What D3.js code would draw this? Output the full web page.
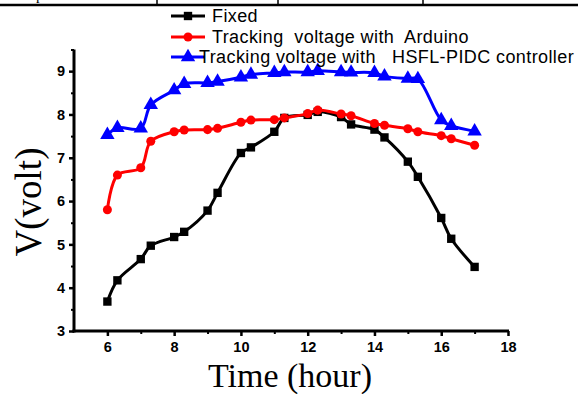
<!DOCTYPE html>
<html>
<head>
<meta charset="utf-8">
<script src="https://cdn.jsdelivr.net/npm/d3@7"></script>
<style>
  body { margin: 0; background: #fff; }
  svg { display: block; }
  text { white-space: pre; }
</style>
</head>
<body>
<svg id="chart" width="578" height="394"></svg>
<script>
// hours of the day
const hours = [6, 6.3, 7, 7.3, 8, 8.3, 9, 9.3, 10, 10.3, 11, 11.3, 12, 12.3, 13, 13.3, 14, 14.3, 15, 15.3, 16, 16.3, 17]

const fixedV = [3.68, 4.17, 4.66, 4.97, 5.17, 5.29, 5.78, 6.19, 7.11, 7.24, 7.6, 7.92, 7.99, 8.06, 7.94, 7.77, 7.65, 7.47, 6.91, 6.56, 5.61, 5.13, 4.48]
const arduinoV = [5.8, 6.6, 6.77, 7.38, 7.6, 7.64, 7.65, 7.68, 7.82, 7.87, 7.88, 7.92, 8.02, 8.1, 8.01, 7.97, 7.79, 7.75, 7.67, 7.6, 7.51, 7.44, 7.29]
const pidcV = [7.53, 7.69, 7.68, 8.22, 8.56, 8.71, 8.73, 8.76, 8.86, 8.92, 8.96, 8.98, 8.98, 9.01, 8.98, 8.97, 8.96, 8.88, 8.83, 8.82, 7.87, 7.74, 7.61]

const seriesNames = ["Fixed", "Tracking  voltage with  Arduino", "Tracking voltage with   HSFL-PIDC controller"]
const seriesColors = ["#000000", "#ff0000", "#0000ff"]
const seriesShapes = [d3.symbolSquare, d3.symbolCircle, d3.symbolTriangle]

const xTicks = [6, 8, 10, 12, 14, 16, 18]
const yTicks = [3, 4, 5, 6, 7, 8, 9]

let svg = d3.select("#chart")

// bit of the table above the figure
svg.append("line")
  .attr("x1", 0).attr("x2", 578).attr("y1", 5).attr("y2", 5)
  .attr("stroke", "black").attr("stroke-width", 2.5)
;[157, 278, 423].forEach(xx => {
  svg.append("line")
    .attr("x1", xx).attr("x2", xx).attr("y1", 0).attr("y2", 5)
    .attr("stroke", "black").attr("stroke-width", 1.5)
})
svg.append("text").text("p")
  .attr("x", 36).attr("y", 0)
  .style("font-family", "Liberation Serif").style("font-size", "15px")

let x = d3.scaleLinear().domain([5, 18]).range([74, 508])
let y = d3.scaleLinear().domain([3, 9.5]).range([331, 49.5])

// axes
let xAxis = svg.append("g")
  .attr("transform", "translate(0," + y(3) + ")")
  .call(d3.axisBottom(x).tickValues(xTicks).tickSize(5).tickSizeOuter(0).tickPadding(6).tickFormat(d3.format("d")))
xAxis.select(".domain").attr("stroke-width", 3).attr("d", "M" + (x(5) - 1.5) + ",0H" + (x(18) + 1))
xAxis.selectAll(".tick line").attr("stroke-width", 2.5)
xAxis.selectAll(".tick text")
  .style("font-family", "Liberation Sans").style("font-weight", "bold").style("font-size", "14.5px")

let xMinor = svg.append("g")
  .attr("transform", "translate(0," + y(3) + ")")
  .call(d3.axisBottom(x).tickValues([7, 9, 11, 13, 15, 17]).tickSize(3).tickFormat(""))
xMinor.select(".domain").remove()
xMinor.selectAll(".tick line").attr("stroke-width", 2)

let yAxis = svg.append("g")
  .attr("transform", "translate(" + x(5) + ",0)")
  .call(d3.axisLeft(y).tickValues(yTicks).tickSize(5).tickSizeOuter(0).tickPadding(4).tickFormat(d3.format("d")))
yAxis.select(".domain").attr("stroke-width", 3).attr("d", "M0," + y(9.5) + "V" + (y(3) + 1.5))
yAxis.selectAll(".tick line").attr("stroke-width", 2.5)
yAxis.selectAll(".tick text")
  .style("font-family", "Liberation Sans").style("font-weight", "bold").style("font-size", "14.5px")

let yMinor = svg.append("g")
  .attr("transform", "translate(" + x(5) + ",0)")
  .call(d3.axisLeft(y).tickValues([3.5, 4.5, 5.5, 6.5, 7.5, 8.5, 9.5]).tickSize(3).tickFormat(""))
yMinor.select(".domain").remove()
yMinor.selectAll(".tick line").attr("stroke-width", 2)

// axis titles
svg.append("text").text("Time (hour)")
  .attr("x", 290).attr("y", 387)
  .attr("text-anchor", "middle")
  .style("font-family", "Liberation Serif").style("font-size", "34px")

svg.append("text").text("V(volt)")
  .attr("transform", "translate(41,202) rotate(-90)")
  .attr("text-anchor", "middle")
  .style("font-family", "Liberation Serif").style("font-size", "37px")

// series
let allSeries = [fixedV, arduinoV, pidcV]
let line = d3.line()
  .x((d, i) => x(hours[i]))
  .y(d => y(d))
  .curve(d3.curveCatmullRom.alpha(0.5))

const markerSize = [70, 64, 90]

allSeries.forEach((vals, k) => {
  svg.append("path")
    .datum(vals)
    .attr("fill", "none")
    .attr("stroke", seriesColors[k])
    .attr("stroke-width", 3)
    .attr("d", line)

  svg.selectAll(".m" + k)
    .data(vals)
    .enter()
    .append("path")
    .attr("class", "m" + k)
    .attr("transform", (d, i) => "translate(" + x(hours[i]) + "," + y(d) + ")")
    .attr("d", d3.symbol().type(seriesShapes[k]).size(markerSize[k]))
    .attr("fill", seriesColors[k])
})

// legend
const legendY = [16, 37, 57]
const legendTextX = [212, 212, 199]
seriesNames.forEach((name, k) => {
  let g = svg.append("g")
  g.append("line")
    .attr("x1", 171).attr("x2", 205).attr("y1", legendY[k]).attr("y2", legendY[k])
    .attr("stroke", seriesColors[k]).attr("stroke-width", 3)
  g.append("path")
    .attr("transform", "translate(188," + legendY[k] + ")")
    .attr("d", d3.symbol().type(seriesShapes[k]).size(markerSize[k]))
    .attr("fill", seriesColors[k])
  g.append("text").text(name)
    .attr("x", legendTextX[k]).attr("y", legendY[k] + 6)
    .style("font-family", "Liberation Sans").style("font-size", "18px")
    .style("letter-spacing", "0.4px")
})
</script>
</body>
</html>
